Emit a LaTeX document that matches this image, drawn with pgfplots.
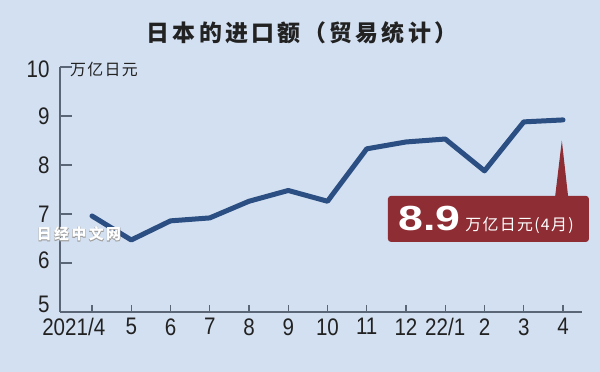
\documentclass[border=0pt]{standalone}
\usepackage{fontspec}
\usepackage{pgfplots}
\pgfplotsset{compat=1.18}
\setmainfont{Liberation Sans}
\newfontfamily\numfont{Liberation Sans}[FakeStretch=0.86]
\newfontfamily\bignum{Liberation Sans}[FakeStretch=1.28]
\newfontfamily\cjk{Noto Sans CJK SC}
\newfontfamily\wmfont{Noto Sans CJK SC}[FakeBold=5]
\definecolor{bgc}{HTML}{D3E0F1}
\definecolor{linec}{HTML}{2B4F82}
\definecolor{boxc}{HTML}{8E2E34}
\definecolor{axisc}{HTML}{5A6675}
\definecolor{txtc}{HTML}{222222}
\newcommand\shiftlab[2]{\raisebox{#1}[\height][\depth]{#2}}
\begin{document}
\begin{tikzpicture}
\useasboundingbox (0,0) rectangle (600bp,372bp);
\fill[bgc] (0,0) rectangle (600bp,372bp);
\node[font=\cjk\bfseries\addfontfeature{LetterSpace=14}\fontsize{23}{23}\selectfont, text=txtc] at (302bp,339bp) {日本的进口额（贸易统计）};
\begin{axis}[
  at={(60bp,60bp)}, anchor=south west,
  scale only axis, width=522bp, height=245bp,
  xmin=-0.815, xmax=12.484, ymin=5, ymax=10,
  axis lines*=left,
  axis line style={draw=axisc, line width=1.5bp},
  clip=false,
  xtick={0,...,12},
  xticklabels={\hspace*{15bp}\makebox[0pt][r]{2021/}4,5,6,7,8,9,10,11,12,22/1,2,3,4},
  ytick={5,...,10},
  yticklabels={\shiftlab{8bp}{5},\shiftlab{3bp}{6},\shiftlab{0bp}{7},\shiftlab{0bp}{8},\shiftlab{0bp}{9},\shiftlab{-2.5bp}{10}},
  tick align=inside,
  xtick style={/pgfplots/major tick length=7bp},
  ytick style={/pgfplots/major tick length=12bp},
  tick style={draw=axisc, line width=1.3bp},
  /pgf/number format/assume math mode=true,
  ticklabel style={font=\numfont\fontsize{24}{24}\selectfont, text=txtc},
  xticklabel style={yshift=-3bp},
  yticklabel style={xshift=-7bp},
]
\addplot[line width=5bp, linec, line join=round, line cap=round] coordinates {
(0,6.96) (1,6.47) (2,6.86) (3,6.92) (4,7.26) (5,7.48) (6,7.26) (7,8.33) (8,8.47) (9,8.53) (10,7.88) (11,8.88) (12,8.92)
};
\node[anchor=west, font=\cjk\addfontfeature{LetterSpace=8}\fontsize{16}{16}\selectfont, text=txtc, inner sep=0pt] at ([xshift=10bp,yshift=-2bp]rel axis cs:0,1) {万亿日元};
% callout
\fill[boxc, rounded corners=3bp] (axis cs:7.54,6.43) rectangle (axis cs:12.66,7.37);
\fill[boxc] (axis cs:11.80,7.3) -- (axis cs:11.80,7.36) -- (axis cs:11.97,8.50) -- (axis cs:12.13,7.36) -- (axis cs:12.13,7.3) -- cycle;
\node[anchor=base west, inner sep=0pt, text=white] at (axis cs:7.80,6.673) {{\bignum\bfseries\fontsize{35}{35}\selectfont 8.9}\hspace{5bp}{\cjk\addfontfeature{LetterSpace=8}\fontsize{16}{16}\selectfont 万亿日元(4月)}};
\end{axis}
% watermark: gray emboldened copy behind white text
\node[font=\wmfont\bfseries\addfontfeature{LetterSpace=16}\fontsize{15}{15}\selectfont, text=gray!75, inner sep=1pt] at (79bp,138bp) {日经中文网};
\node[font=\cjk\bfseries\addfontfeature{LetterSpace=16}\fontsize{15}{15}\selectfont, text=white, inner sep=1pt] at (79bp,138bp) {日经中文网};
\end{tikzpicture}
\end{document}
